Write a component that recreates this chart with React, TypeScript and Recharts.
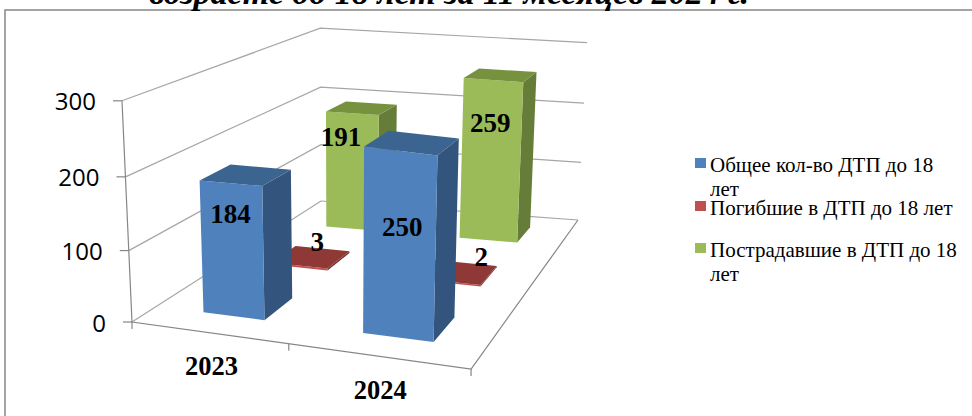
import React from 'react';
import { BarChart, Bar, XAxis, YAxis, Customized, LabelList } from 'recharts';

const years = ['2023', '2024'];
const seriesNames = ['Общее кол-во ДТП до 18 лет', 'Погибшие в ДТП до 18 лет', 'Пострадавшие в ДТП до 18 лет'];
const totalCrashes = [184, 250];
const killed = [3, 2];
const injured = [191, 259];
const valueTicks = [0, 100, 200, 300];
const titleText = 'возрасте до 18 лет за 11 месяцев 2024 г.';

const rows = years.map((year, i) => ({ year, total: totalCrashes[i], killed: killed[i], injured: injured[i] }));

const W = 972, H = 416;
const AXIS = 1;
const PL = 100, PT = 60, PR = 100, PB = 60;
const M = { left: PL - AXIS, right: PR, top: PT, bottom: PB - AXIS };
const PW = W - PL - PR, PH = H - PT - PB, VMAX = 300;
const SERIF = '"Liberation Serif", serif';

// perspective of the 3D floor + vertical vanishing point
const G = -0.1398, HH = 0.3773;
const A = 273.2, B = 310.1, C0 = 132, D = -4.6, E = -45.2, F0 = 322;
const VX = 339, VY = 4920, CZ = -0.000153;
const project = (u: number, v: number, val: number): [number, number] => {
  const w = G * u + HH * v + 1;
  const s = 1 + 0.06 * v * (1 - u) - 0.02 * u * v - 0.09 * u * u * (1 - v);
  const hc = val * CZ * s;
  const X = A * u + B * v + C0 + hc * VX;
  const Y = D * u + E * v + F0 + hc * VY;
  return [X / (w + hc), Y / (w + hc)];
};
const pts = (a: [number, number][]) => a.map((p) => `${p[0].toFixed(1)},${p[1].toFixed(1)}`).join(' ');

const palettes = [
  { front: '#4F81BD', top: '#3C6491', side: '#32547D' },
  { front: '#C0504D', top: '#8E3936', side: '#7A302E' },
  { front: '#9BBB59', top: '#77923F', side: '#667D3A' },
];
const DEPTH = 0.137;
const U_SHIFT = 0.011;

const toU = (x: number) => (x - PL) / PW;
const toVal = (h: number) => (h / PH) * VMAX;

const Box = (series: number) => (props: any) => {
  const { x, width, height } = props;
  const u0 = toU(x) + U_SHIFT, u1 = toU(x + width) + U_SHIFT;
  const vc = (series + 0.5) / 3;
  const v0 = vc - DEPTH / 2, v1 = vc + DEPTH / 2;
  const h = toVal(height);
  const p = palettes[series];
  return (
    <g>
      <polygon points={pts([project(u1, v0, 0), project(u1, v1, 0), project(u1, v1, h), project(u1, v0, h)])} fill={p.side} />
      <polygon points={pts([project(u0, v0, 0), project(u1, v0, 0), project(u1, v0, h), project(u0, v0, h)])} fill={p.front} />
      <polygon points={pts([project(u0, v0, h), project(u1, v0, h), project(u1, v1, h), project(u0, v1, h)])} fill={p.top} />
    </g>
  );
};

// hand placement of the value labels, relative to the bar top front centre
const labelNudge: Record<string, [number, number]> = {
  '0-0': [0, 31], '0-1': [2, 76],
  '1-0': [18, -24], '1-1': [33, -25],
  '2-0': [-11, 24], '2-1': [-3, 43],
};
const BoxLabel = (series: number) => (props: any) => {
  const { x, width, height, value, index } = props;
  const vc = (series + 0.5) / 3;
  const [px, py] = project(toU(x + width / 2) + U_SHIFT, vc - DEPTH / 2, toVal(height));
  const n = labelNudge[`${series}-${index}`] || [0, 0];
  return (
    <text x={px + n[0]} y={py + n[1]} textAnchor="middle" dominantBaseline="central" fontFamily={SERIF} fontWeight="bold" fontSize={27} fill="#000">
      {value}
    </text>
  );
};

const Walls = () => (
  <g fill="none">
    <polyline points={`${W + 5},10 5,10 5,${H + 5}`} stroke="#868686" strokeWidth={1.5} />
    <text x={449} y={4} textAnchor="middle" fontFamily={SERIF} fontStyle="italic" fontWeight="bold" fontSize={34} fill="#000">{titleText}</text>
    {valueTicks.slice(1).map((t) => (
      <polyline key={t} points={pts([project(0, 0, t), project(0, 1, t), project(1, 1, t)])} stroke="#A6A6A6" strokeWidth={1.2} />
    ))}
    <polyline points={pts([project(0, 1, 0), project(1, 1, 0)])} stroke="#A6A6A6" strokeWidth={1.2} />
    <polyline points={pts([project(0, 0, 0), project(0, 1, 0)])} stroke="#A6A6A6" strokeWidth={1.2} />
    <polyline points={pts([project(0, 0, 300), project(0, 0, 0), project(1, 0, 0), project(1, 1, 0)])} stroke="#868686" strokeWidth={1.2} />
    {[0, 0.5, 1].map((u) => {
      const [x, y] = project(u, 0, 0);
      return <line key={u} x1={x} y1={y} x2={x} y2={y + 7} stroke="#868686" strokeWidth={1.2} />;
    })}
  </g>
);

const ValueTick = (props: any) => {
  const { payload } = props;
  const [x, y] = project(0, 0, payload.value);
  return (
    <g>
      <line x1={x - 9} y1={y} x2={x} y2={y} stroke="#868686" strokeWidth={1.2} />
      <text x={x - 26} y={y} textAnchor="end" dominantBaseline="central" fontFamily='"Open Sans", sans-serif' fontSize={24} fill="#000">
        {payload.value}
      </text>
    </g>
  );
};

const YearTick = (props: any) => {
  const { x: bx, payload } = props;
  const [x, y] = project(toU(bx), 0, 0);
  return (
    <text x={x + 4} y={y + 34} textAnchor="middle" dominantBaseline="central" fontFamily={SERIF} fontWeight="bold" fontSize={26.5} fill="#000">
      {payload.value}
    </text>
  );
};

const legendTop = [153, 196, 238];
const legendColors = ['#4F81BD', '#C0504D', '#9BBB59'];

export default function App() {
  return (
    <div style={{ position: 'absolute', left: 0, top: 0, width: W, height: H, overflow: 'hidden', background: '#fff' }}>
      <BarChart width={W} height={H} data={rows} margin={M} barCategoryGap="30%">
        <Customized component={Walls} />
        <XAxis xAxisId="a" dataKey="year" height={AXIS} axisLine={false} tickLine={false} interval={0} tick={YearTick} />
        <XAxis xAxisId="b" dataKey="year" hide />
        <XAxis xAxisId="c" dataKey="year" hide />
        <YAxis domain={[0, VMAX]} ticks={valueTicks} width={AXIS} axisLine={false} tickLine={false} tick={ValueTick} interval={0} />
        <Bar xAxisId="c" dataKey="injured" name={seriesNames[2]} isAnimationActive={false} shape={Box(2)}>
          <LabelList dataKey="injured" content={BoxLabel(2)} />
        </Bar>
        <Bar xAxisId="b" dataKey="killed" name={seriesNames[1]} isAnimationActive={false} shape={Box(1)}>
          <LabelList dataKey="killed" content={BoxLabel(1)} />
        </Bar>
        <Bar xAxisId="a" dataKey="total" name={seriesNames[0]} isAnimationActive={false} shape={Box(0)}>
          <LabelList dataKey="total" content={BoxLabel(0)} />
        </Bar>
      </BarChart>
      {seriesNames.map((name, i) => (
        <div key={name} style={{ position: 'absolute', left: 710, top: legendTop[i], width: 250, fontFamily: SERIF, fontSize: 21, lineHeight: '24px', color: '#000' }}>
          <span style={{ position: 'absolute', left: -15, top: 5, width: 11, height: 10, background: legendColors[i] }} />
          {name}
        </div>
      ))}
    </div>
  );
}
